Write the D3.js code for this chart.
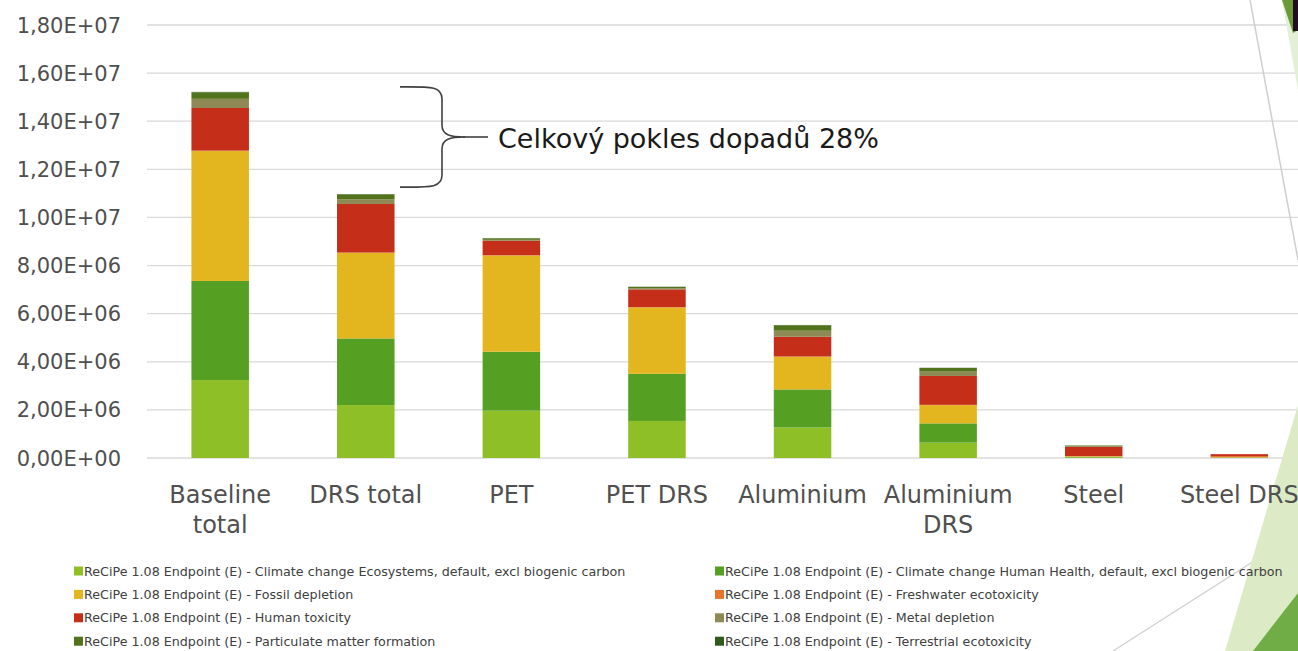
<!DOCTYPE html>
<html>
<head>
<meta charset="utf-8">
<script src="https://cdn.jsdelivr.net/npm/d3@7"></script>
<style>
  html, body { margin: 0; padding: 0; background: #fff; overflow: hidden; }
  svg { display: block; font-family: 'DejaVu Sans', sans-serif; }
</style>
</head>
<body>
<div id="vis"></div>
<script>
// categories and their wrapped labels
var categories = ["Baseline total", "DRS total", "PET", "PET DRS", "Aluminium", "Aluminium DRS", "Steel", "Steel DRS"];
var categoryLines = [["Baseline", "total"], ["DRS total"], ["PET"], ["PET DRS"], ["Aluminium"], ["Aluminium", "DRS"], ["Steel"], ["Steel DRS"]];

// series values
var climateEco   = [3.24e6, 2.20e6, 1.97e6, 1.54e6, 1.27e6, 0.64e6, 0.03e6, 0.01e6];
var climateHH    = [4.12e6, 2.77e6, 2.45e6, 1.96e6, 1.58e6, 0.80e6, 0.02e6, 0.01e6];
var fossil       = [5.40e6, 3.56e6, 4.00e6, 2.76e6, 1.36e6, 0.76e6, 0.02e6, 0.01e6];
var freshwater   = [0.02e6, 0.01e6, 0.01e6, 0.01e6, 0.01e6, 0.01e6, 0.01e6, 0.05e6];
var humanTox     = [1.77e6, 2.02e6, 0.60e6, 0.74e6, 0.82e6, 1.20e6, 0.38e6, 0.08e6];
var metal        = [0.38e6, 0.19e6, 0.04e6, 0.04e6, 0.25e6, 0.18e6, 0.03e6, 0.00e6];
var particulate  = [0.27e6, 0.20e6, 0.06e6, 0.06e6, 0.22e6, 0.15e6, 0.03e6, 0.00e6];
var terrestrial  = [0.02e6, 0.02e6, 0.01e6, 0.01e6, 0.02e6, 0.01e6, 0.00e6, 0.00e6];

var seriesNames = [
  "ReCiPe 1.08 Endpoint (E) - Climate change Ecosystems, default, excl biogenic carbon",
  "ReCiPe 1.08 Endpoint (E) - Climate change Human Health, default, excl biogenic carbon",
  "ReCiPe 1.08 Endpoint (E) - Fossil depletion",
  "ReCiPe 1.08 Endpoint (E) - Freshwater ecotoxicity",
  "ReCiPe 1.08 Endpoint (E) - Human toxicity",
  "ReCiPe 1.08 Endpoint (E) - Metal depletion",
  "ReCiPe 1.08 Endpoint (E) - Particulate matter formation",
  "ReCiPe 1.08 Endpoint (E) - Terrestrial ecotoxicity"
];
var seriesValues = [climateEco, climateHH, fossil, freshwater, humanTox, metal, particulate, terrestrial];
var seriesColors = ["#8fbf26", "#55a022", "#e3b51f", "#e8732a", "#c52f1a", "#8f8a55", "#52731b", "#2f5a1c"];

var yTicks = [0, 2e6, 4e6, 6e6, 8e6, 10e6, 12e6, 14e6, 16e6, 18e6];
var annotation = "Celkový pokles dopadů 28%";

var W = 1298, H = 651;

var svg = d3.select("#vis").append("svg")
  .attr("width", W)
  .attr("height", H);

// build table for d3.stack
var keys = seriesNames.map(function (d, i) { return "s" + i; });
var table = categories.map(function (c, j) {
  var row = { cat: c };
  seriesValues.forEach(function (s, i) { row["s" + i] = s[j]; });
  return row;
});
var stacked = d3.stack().keys(keys)(table);

var x = d3.scaleBand()
  .domain(categories)
  .range([147.75, 1311.75])
  .paddingInner(0.605)
  .paddingOuter(0.3);

var y = d3.scaleLinear()
  .domain([0, 18e6])
  .range([458, 25]);

// gridlines
svg.append("g")
  .selectAll("line")
  .data(yTicks)
  .enter()
  .append("line")
    .attr("x1", 147)
    .attr("x2", W)
    .attr("y1", function (d) { return y(d); })
    .attr("y2", function (d) { return y(d); })
    .attr("stroke", "#d9d9d9")
    .attr("stroke-width", 1.3);

// y axis labels
var fmt = function (v) {
  return v.toExponential(2).replace(".", ",").replace(/e([+-])(\d)$/, "E$10$2").replace(/e([+-])(\d\d)$/, "E$1$2");
};
svg.append("g")
  .selectAll("text")
  .data(yTicks)
  .enter()
  .append("text")
    .attr("x", 121)
    .attr("y", function (d) { return y(d) + 7.5; })
    .attr("text-anchor", "end")
    .attr("fill", "#505050")
    .style("font-size", "21px")
    .text(fmt);

// decorative slide shapes
var deco = svg.append("g");
deco.append("line").attr("x1", 1250).attr("y1", 0).attr("x2", 1298).attr("y2", 260)
  .attr("stroke", "#cfcfcf").attr("stroke-width", 1.5);
deco.append("line").attr("x1", 1113).attr("y1", 651).attr("x2", 1298).attr("y2", 533)
  .attr("stroke", "#cfcfcf").attr("stroke-width", 1.2);

// bars
svg.append("g")
  .selectAll("g")
  .data(stacked)
  .enter()
  .append("g")
    .attr("fill", function (d, i) { return seriesColors[i]; })
  .selectAll("rect")
  .data(function (d) { return d; })
  .enter()
  .append("rect")
    .attr("x", function (d) { return x(d.data.cat); })
    .attr("width", x.bandwidth())
    .attr("y", function (d) { return y(d[1]); })
    .attr("height", function (d) { return Math.max(0, y(d[0]) - y(d[1])); });

deco.append("path").attr("d", "M1225,651 L1298,405 L1298,651 Z").attr("fill", "#dcebc6");
deco.append("path").attr("d", "M1253,651 L1298,593 L1298,651 Z").attr("fill", "#70ad47");
deco.append("path").attr("d", "M1282,0 L1298,0 L1298,90 Z").attr("fill", "#e3efd6");
deco.append("path").attr("d", "M1282,0 L1298,0 L1298,30 L1293,33 Z").attr("fill", "#6a9a3a");
deco.append("rect").attr("x", 1293).attr("y", 0).attr("width", 5).attr("height", 31).attr("fill", "#230b22");

// category labels
var catLabels = svg.append("g")
  .selectAll("text")
  .data(categories)
  .enter()
  .append("text")
    .attr("x", function (d) { return x(d) + x.bandwidth() / 2; })
    .attr("y", 503)
    .attr("text-anchor", "middle")
    .attr("fill", "#505050")
    .style("font-size", "24px");
catLabels.selectAll("tspan")
  .data(function (d, i) { return categoryLines[i]; })
  .enter()
  .append("tspan")
    .attr("x", function () { var c = d3.select(this.parentNode).datum(); return x(c) + x.bandwidth() / 2; })
    .attr("dy", function (d, i) { return i === 0 ? 0 : 30; })
    .text(function (d) { return d; });

// brace annotation between Baseline and DRS totals
var braceTop = y(15.22e6) - 5, braceBot = y(10.97e6) - 7;
var mid = (braceTop + braceBot) / 2;
svg.append("path")
  .attr("d",
    "M400," + braceTop +
    " C430," + braceTop + " 442," + (braceTop - 1) + " 442," + (braceTop + 12) +
    " L442," + (mid - 12) +
    " C442," + (mid - 2) + " 450," + mid + " 465," + mid +
    " C450," + mid + " 442," + (mid + 2) + " 442," + (mid + 12) +
    " L442," + (braceBot - 12) +
    " C442," + (braceBot + 1) + " 430," + braceBot + " 400," + braceBot)
  .attr("fill", "none")
  .attr("stroke", "#404040")
  .attr("stroke-width", 1.6);
svg.append("line")
  .attr("x1", 463).attr("x2", 488)
  .attr("y1", mid).attr("y2", mid)
  .attr("stroke", "#404040")
  .attr("stroke-width", 1.6);
svg.append("text")
  .attr("x", 498)
  .attr("y", mid + 11)
  .attr("fill", "#1a1a1a")
  .style("font-size", "27px")
  .text(annotation);

// legend
var legend = svg.append("g")
  .selectAll("g")
  .data(seriesNames)
  .enter()
  .append("g")
    .attr("transform", function (d, i) {
      var col = i % 2, row = Math.floor(i / 2);
      return "translate(" + (col === 0 ? 74 : 715) + "," + (571 + row * 23.4) + ")";
    });
legend.append("rect")
  .attr("x", 0).attr("y", -4.5)
  .attr("width", 9).attr("height", 9)
  .attr("fill", function (d, i) { return seriesColors[i]; });
legend.append("text")
  .attr("x", 10)
  .attr("y", 4.5)
  .attr("fill", "#404040")
  .style("font-size", "12.7px")
  .text(function (d) { return d; });
</script>
</body>
</html>
